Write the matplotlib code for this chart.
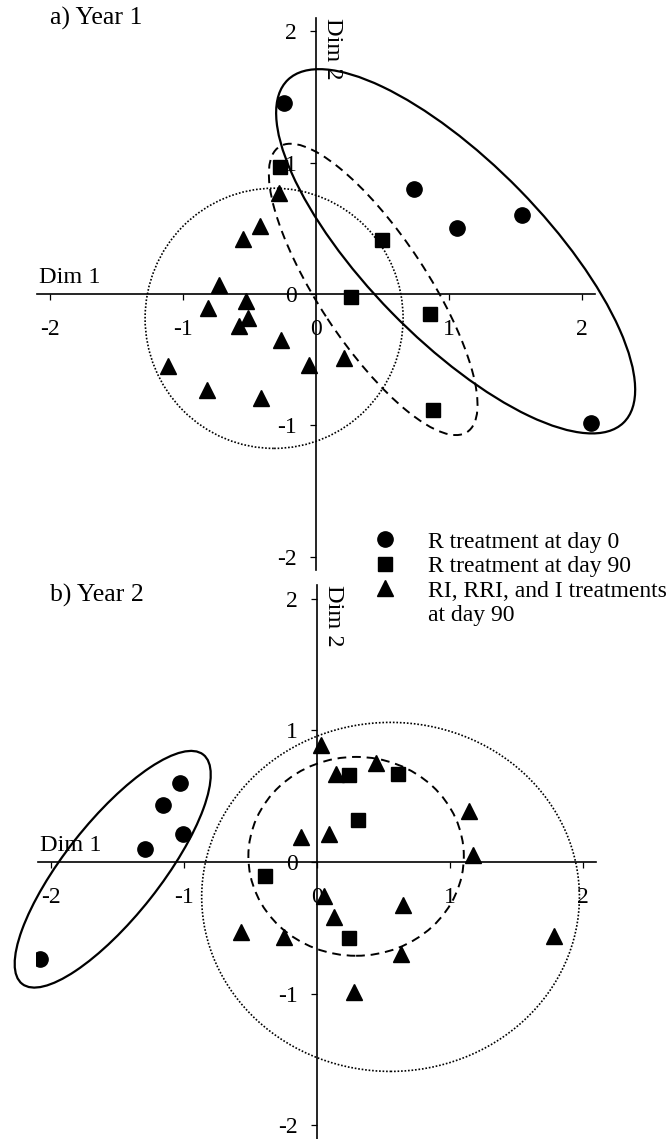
import matplotlib
matplotlib.use("Agg")
import matplotlib.pyplot as plt
from matplotlib.patches import Ellipse
from matplotlib.lines import Line2D

plt.rcParams['font.family'] = ['Liberation Serif', 'DejaVu Serif']
plt.rcParams['axes.unicode_minus'] = False

# ---- Year 1 ----
y1_day0_x = [-0.24, 0.74, 1.06, 1.55, 2.07]
y1_day0_y = [1.45, 0.80, 0.50, 0.60, -0.98]
y1_day90_x = [-0.27, 0.50, 0.26, 0.86, 0.88]
y1_day90_y = [0.97, 0.41, -0.02, -0.15, -0.88]
y1_other_x = [-0.28, -0.42, -0.55, -0.73, -0.53, -0.81, -0.51, -0.58,
              -0.26, -1.11, -0.82, -0.41, -0.05, 0.21]
y1_other_y = [0.77, 0.52, 0.42, 0.07, -0.05, -0.11, -0.18, -0.24,
              -0.35, -0.55, -0.73, -0.79, -0.54, -0.49]

# ---- Year 2 ----
y2_day0_x = [-1.03, -1.16, -1.01, -1.29, -2.08]
y2_day0_y = [0.60, 0.43, 0.21, 0.10, -0.74]
y2_day90_x = [0.24, 0.61, 0.31, -0.39, 0.24]
y2_day90_y = [0.66, 0.67, 0.32, -0.11, -0.58]
y2_other_x = [0.03, 0.14, 0.44, 1.14, 0.09, -0.12, 1.17, 0.05, 0.13,
              0.65, 0.63, 0.28, 1.78, -0.57, -0.25]
y2_other_y = [0.89, 0.67, 0.75, 0.39, 0.21, 0.19, 0.05, -0.26, -0.42,
              -0.33, -0.70, -0.99, -0.56, -0.53, -0.57]

# confidence ellipses: (center x, center y, width, height, angle)
y1_ellipses = {
    'day0': (1.05, 0.325, 3.63, 1.34, -46),
    'day90': (0.43, 0.035, 2.59, 0.82, -57),
    'other': (-0.315, -0.185, 1.94, 1.98, 0),
}
y2_ellipses = {
    'day0': (-1.536, -0.055, 2.21, 0.72, 52),
    'day90': (0.294, 0.043, 1.62, 1.51, 0),
    'other': (0.553, -0.265, 2.84, 2.65, 0),
}

ticks = [-2, -1, 0, 1, 2]
legend_labels = ['R treatment at day 0', 'R treatment at day 90',
                 'RI, RRI, and I treatments', 'at day 90']

ell_styles = {
    'day0': dict(linestyle='-', linewidth=1.6),
    'day90': dict(linestyle=(0, (4.5, 3)), linewidth=1.4),
    'other': dict(linestyle=(0, (1, 1.1)), linewidth=1.2),
}

W, H = 672, 1139
fig = plt.figure(figsize=(W / 100, H / 100), dpi=100)

def px_axes(x0, y0, sy):
    sx = 133.0
    left = x0 - 2.11 * sx
    top = y0 - 2.1 * sy
    return [left / W, 1 - (top + 4.2 * sy) / H, 4.26 * sx / W, 4.2 * sy / H]

ax_a = fig.add_axes(px_axes(316, 294, 131.4))
ax_b = fig.add_axes(px_axes(317, 862, 131.7))


def draw_panel(ax, d0, d90, oth, ells):
    ax.set_xlim(-2.11, 2.15)
    ax.set_ylim(-2.1, 2.1)
    for side in ['top', 'right']:
        ax.spines[side].set_visible(False)
    ax.spines['left'].set_position(('data', 0))
    ax.spines['bottom'].set_position(('data', 0))
    ax.spines['bottom'].set_bounds(-2.1, 2.1)
    for side in ['left', 'bottom']:
        ax.spines[side].set_linewidth(1.2)
    ax.set_xticks(ticks)
    ax.set_yticks(ticks)
    ax.tick_params(axis='x', direction='out', length=4, width=0.9, pad=14, labelsize=17)
    ax.tick_params(axis='y', direction='out', length=4, width=0.9, pad=10, labelsize=17)
    ax.patch.set_alpha(0)

    for key, (cx, cy, w, h, ang) in ells.items():
        ax.add_patch(Ellipse((cx, cy), w, h, angle=ang, fill=False,
                             edgecolor='black', clip_on=False, **ell_styles[key]))

    ax.plot(d0[0], d0[1], 'o', color='black', markersize=11, linestyle='none')
    ax.plot(d90[0], d90[1], 's', color='black', markersize=9.5, linestyle='none')
    ax.plot(oth[0], oth[1], '^', color='black', markersize=11, linestyle='none')

    ax.text(-2.08, 0.08, 'Dim 1', fontsize=17.5, va='baseline', ha='left')
    ax.text(0.125, 2.1, 'Dim 2', fontsize=17.5, va='top', ha='center', rotation=270)


draw_panel(ax_a, (y1_day0_x, y1_day0_y), (y1_day90_x, y1_day90_y),
           (y1_other_x, y1_other_y), y1_ellipses)
draw_panel(ax_b, (y2_day0_x, y2_day0_y), (y2_day90_x, y2_day90_y),
           (y2_other_x, y2_other_y), y2_ellipses)

fig.text(50 / W, 1 - 18 / H, 'a) Year 1', fontsize=18.5, va='center', ha='left')
fig.text(50 / W, 1 - 595 / H, 'b) Year 2', fontsize=18.5, va='center', ha='left')

handles = [
    Line2D([], [], marker='o', color='black', markersize=11, linestyle='none'),
    Line2D([], [], marker='s', color='black', markersize=9.5, linestyle='none'),
    Line2D([], [], marker='^', color='black', markersize=11, linestyle='none'),
    Line2D([], [], linestyle='none'),
]
fig.legend(handles, legend_labels, loc='upper left',
           bbox_to_anchor=(373.2 / W, 1 - 531 / H), bbox_transform=fig.transFigure,
           frameon=False, fontsize=17, handlelength=1.0, handletextpad=1.33,
           labelspacing=0.13, borderpad=0, borderaxespad=0)

fig.savefig('out.png', dpi=100)
